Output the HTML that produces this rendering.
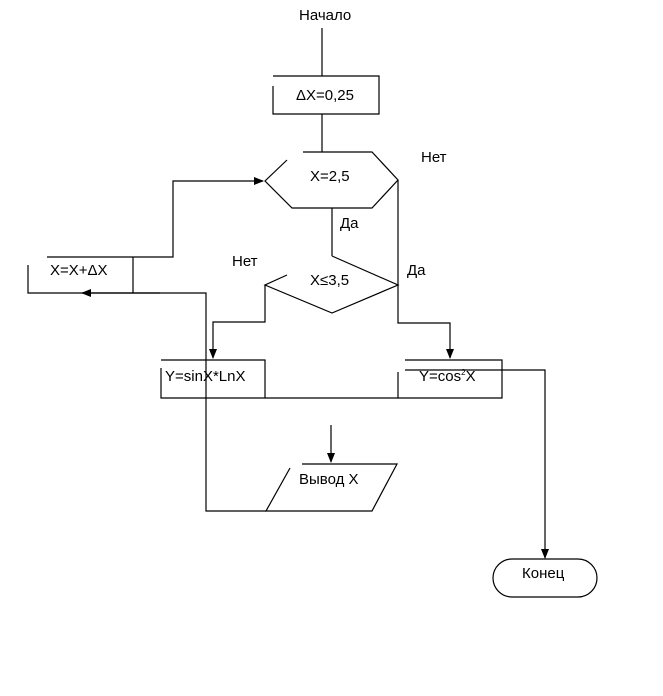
<!DOCTYPE html><html><head><style>body{margin:0;background:#fff}svg text{font-family:"Liberation Sans",sans-serif;font-size:15px;fill:#000}</style></head><body>
<svg width="663" height="691" xmlns="http://www.w3.org/2000/svg">
<defs><marker id="a" markerWidth="10" markerHeight="8" refX="9" refY="4" orient="auto" markerUnits="userSpaceOnUse"><path d="M0,0L10,4L0,8z" fill="#000"/></marker></defs>
<g stroke="#000" stroke-width="1.2" fill="none">
<line x1="322" y1="28" x2="322" y2="76"/>
<path d="M273,76H379V114H273V86"/>
<line x1="322" y1="114" x2="322" y2="152"/>
<path d="M303,152H372L398,180L372,208H292L265,181L287,160"/>
<line x1="332" y1="208" x2="332" y2="256"/>
<path d="M332,256L398,285L332,313L265,285L287,275"/>
<polyline points="398,180 398,323 450,323 450,358" marker-end="url(#a)"/>
<polyline points="265,285 265,322 213,322 213,358" marker-end="url(#a)"/>
<path d="M161,360H265V398H161V368"/>
<path d="M405,360H502V398H398V372"/>
<line x1="265" y1="398" x2="398" y2="398"/>
<polyline points="405,370 545,370 545,558" marker-end="url(#a)"/>
<line x1="331" y1="425" x2="331" y2="462" marker-end="url(#a)"/>
<path d="M302,464H397L372,511H266L290,468"/>
<polyline points="266,511 206,511 206,293 28,293 28,265"/>
<line x1="160" y1="293" x2="82" y2="293" marker-end="url(#a)"/>
<path d="M47,257H173V181H263" marker-end="url(#a)"/>
<line x1="133" y1="257" x2="133" y2="293"/>
<rect x="493" y="559" width="104" height="38" rx="19"/>
</g>
<text x="299" y="20">Начало</text>
<text x="296" y="100">ΔX=0,25</text>
<text x="310" y="181">X=2,5</text>
<text x="421" y="162">Нет</text>
<text x="340" y="228">Да</text>
<text x="232" y="266">Нет</text>
<text x="407" y="275">Да</text>
<text x="310" y="285">X≤3,5</text>
<text x="50" y="275">X=X+ΔX</text>
<text x="165" y="381">Y=sinX*LnX</text>
<text x="419" y="381">Y=cos<tspan font-size="8" dy="-6">2</tspan><tspan dy="6">X</tspan></text>
<text x="299" y="484">Вывод X</text>
<text x="522" y="578">Конец</text>
</svg></body></html>
